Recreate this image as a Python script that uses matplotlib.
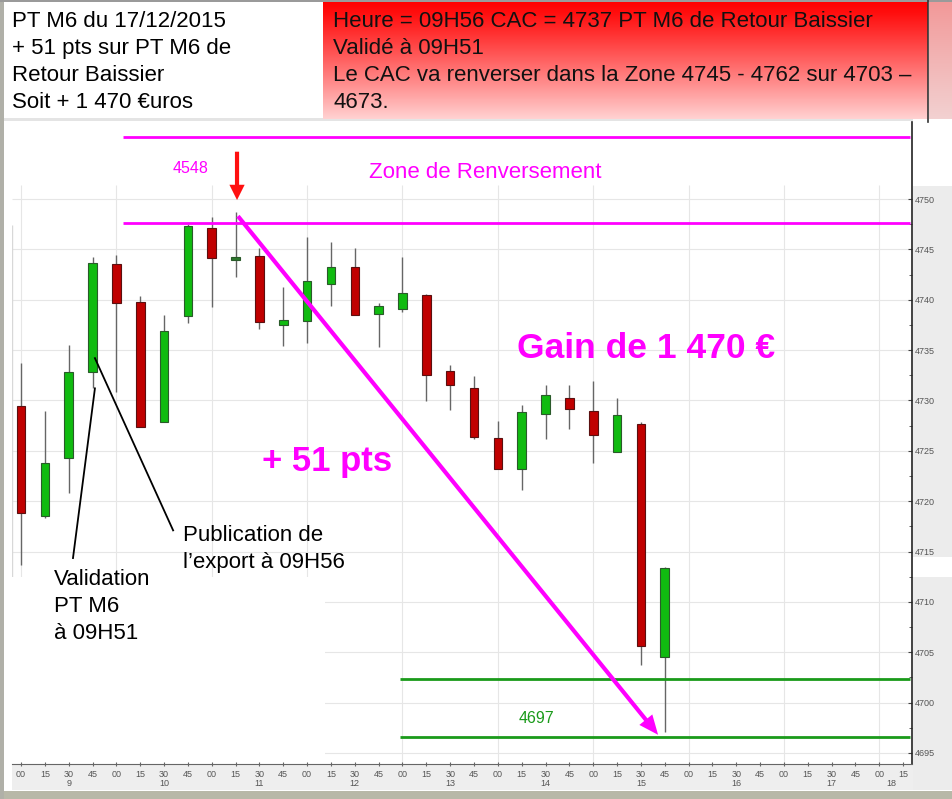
import matplotlib.pyplot as plt
import matplotlib.transforms as mtransforms
from matplotlib.patches import Rectangle
import numpy as np

plt.rcParams['font.family'] = ['Liberation Sans', 'DejaVu Sans']

W, H = 953, 799

# one candle per 15-minute slot, slot 0 = 09:00
slots = list(range(28))
opens = [4729.4, 4718.5, 4724.3, 4732.8, 4743.5, 4739.8, 4727.9, 4738.4, 4747.1, 4743.9,
         4744.3, 4737.5, 4737.9, 4741.6, 4743.3, 4738.6, 4739.1, 4740.5, 4732.9, 4731.2,
         4726.3, 4723.2, 4728.7, 4730.2, 4729.0, 4724.9, 4727.7, 4704.5]
highs = [4733.7, 4729.0, 4735.5, 4744.2, 4744.4, 4740.4, 4738.5, 4747.5, 4748.2, 4748.7,
         4745.1, 4741.3, 4746.2, 4745.7, 4745.1, 4739.7, 4744.2, 4740.6, 4733.5, 4732.4,
         4728.0, 4729.5, 4731.5, 4731.5, 4731.9, 4730.2, 4727.9, 4713.5]
lows = [4713.7, 4718.3, 4720.8, 4731.2, 4730.8, 4727.4, 4727.9, 4737.7, 4739.3, 4742.3,
        4737.1, 4735.4, 4735.7, 4739.4, 4738.5, 4735.3, 4738.8, 4729.9, 4729.1, 4726.2,
        4723.2, 4721.1, 4726.2, 4727.2, 4723.8, 4724.9, 4703.7, 4697.1]
closes = [4718.8, 4723.8, 4732.8, 4743.6, 4739.7, 4727.4, 4736.9, 4747.3, 4744.1, 4744.1,
          4737.8, 4738.0, 4741.9, 4743.3, 4738.5, 4739.4, 4740.7, 4732.5, 4731.5, 4726.4,
          4723.2, 4728.9, 4730.5, 4729.2, 4726.6, 4728.6, 4705.6, 4713.4]

minute_labels = ['00', '15', '30', '45']
hour_labels = ['9', '10', '11', '12', '13', '14', '15', '16', '17', '18']
hour_slots = [2, 6, 10, 14, 18, 22, 26, 30, 34, 36.5]
n_slots = 38  # 09:00 -> 18:15

zone_levels = [4756.2, 4747.6]     # magenta reversal zone
target_levels = [4702.3, 4696.6]   # green target lines
y_ticks = list(range(4695, 4751, 5))

# red signal arrow and the magenta move arrow
signal_slot, signal_top, signal_tip = 9.06, 4754.7, 4749.9
move_start = (9.1, 4748.3)
move_end = (26.72, 4696.8)

left_box = ['PT M6 du 17/12/2015', '+ 51 pts sur PT M6 de', 'Retour Baissier',
            'Soit + 1 470 €uros']
right_box = ['Heure = 09H56 CAC = 4737 PT M6 de Retour Baissier', 'Validé à 09H51',
             'Le CAC va renverser dans la Zone 4745 - 4762 sur 4703 –', '4673.']
box_baselines = [27, 54, 81, 108]


def fx(x):
    return x / W


def fy(y):
    return 1 - y / H


fig = plt.figure(figsize=(W / 100, H / 100), dpi=100)
fig.patch.set_facecolor('white')


def panel(x0, y0, x1, y1, color):
    fig.add_artist(Rectangle((fx(x0), fy(y1)), (x1 - x0) / W, (y1 - y0) / H,
                             transform=fig.transFigure, facecolor=color,
                             edgecolor='none', zorder=-1))


# frame / side panels of the screenshot
panel(913, 186, W, 790, '#ececec')
panel(913, 557, W, 577, 'white')
panel(12, 764, 913, 790, '#eeeeee')
panel(0, 791, W, H, '#b8b8a8')
panel(0, 0, 4, H, '#b0b0a8')
panel(0, 0, W, 2, '#9a9a9a')
panel(4, 118, 913, 121, '#e4e4e4')

# red gradient box
grad = np.linspace(0, 1, 100)
img = np.zeros((100, 1, 3))
img[:, 0, 0] = 1.0
img[:, 0, 1] = 0.82 * grad ** 1.1
img[:, 0, 2] = 0.82 * grad ** 1.1
ax_g = fig.add_axes([fx(323), fy(119), (928 - 323) / W, (119 - 2) / H])
ax_g.imshow(img, aspect='auto')
ax_g.axis('off')

img2 = np.zeros((100, 1, 3))
img2[:, 0, 0] = 0.95
img2[:, 0, 1] = 0.60 + 0.22 * grad
img2[:, 0, 2] = 0.60 + 0.22 * grad
ax_g2 = fig.add_axes([fx(929), fy(119), (W - 929) / W, (119 - 2) / H])
ax_g2.imshow(img2, aspect='auto')
ax_g2.axis('off')
fig.add_artist(plt.Line2D([fx(928), fx(928)], [fy(0), fy(122)], color='#333333',
                          lw=1.2, transform=fig.transFigure))

for yb, t in zip(box_baselines, left_box):
    fig.text(fx(12), fy(yb), t, fontsize=16, va='baseline', color='black')
for yb, t in zip(box_baselines, right_box):
    fig.text(fx(333), fy(yb), t, fontsize=16, va='baseline', color='#111111')

# main chart
ax = fig.add_axes([fx(12), fy(764), 900 / W, 642 / H])
ax.set_facecolor('white')
ax.set_xlim(-0.378, 37.37)
ax.set_ylim(4693.9, 4757.65)

grid_top = 4751.4
ax.hlines(y_ticks, -0.378, 37.37, color='#e6e6e6', lw=0.8, zorder=0)
ax.vlines(range(0, n_slots, 4), 4693.9, grid_top, color='#e6e6e6', lw=0.8, zorder=0)
ax.vlines(-0.378, 4712.5, 4747.4, color='#d8d8d8', lw=1.0, zorder=0)
ax.add_patch(Rectangle((-0.4, 4693.9), 13.15, 4712.5 - 4693.9, facecolor='white',
                       edgecolor='none', zorder=0.5))

up = [c >= o for o, c in zip(opens, closes)]
bottoms = [min(o, c) for o, c in zip(opens, closes)]
heights = [max(abs(c - o), 0.3) for o, c in zip(opens, closes)]
body_colors = []
for u, hgt in zip(up, heights):
    if hgt <= 0.3:
        body_colors.append('#2f7a2f')   # doji drawn darker
    else:
        body_colors.append('#10bb10' if u else '#c00000')
ax.vlines(slots, lows, highs, color='#666666', lw=1.0, zorder=2)
ax.bar(slots, heights, bottom=bottoms, width=0.36, color=body_colors,
       edgecolor=['#2a5a2a' if u else '#5a1010' for u in up], lw=0.8, zorder=3)

ax.hlines(zone_levels, 4.28, 37.29, color='#ff00ff', lw=2.0, zorder=4)
ax.hlines(target_levels, 15.9, 37.29, color='#1a9a1a', lw=2.0, zorder=4)

ax.annotate('', xy=(signal_slot, signal_tip), xytext=(signal_slot, signal_top),
            arrowprops=dict(facecolor='#ff1010', edgecolor='none', width=3,
                            headwidth=11, headlength=11, shrink=0), zorder=5)
ax.annotate('', xy=move_end, xytext=move_start,
            arrowprops=dict(facecolor='#ff00ff', edgecolor='none', width=3,
                            headwidth=12, headlength=14, shrink=0), zorder=5)

ax.plot([3.1, 2.18], [4731.2, 4714.35], color='black', lw=1.3, zorder=5)
ax.plot([3.1, 6.38], [4734.2, 4717.1], color='black', lw=1.3, zorder=5)

for s in ['top', 'left']:
    ax.spines[s].set_visible(False)
ax.spines['right'].set_color('#222222')
ax.spines['right'].set_linewidth(1.2)
ax.spines['bottom'].set_color('#666666')

ax.yaxis.tick_right()
ax.set_yticks(y_ticks)
ax.set_yticklabels([str(v) for v in y_ticks])
ax.set_yticks(np.arange(4697.5, 4751, 5), minor=True)
ax.tick_params(axis='y', which='major', direction='in', length=3, pad=2,
               labelsize=6.5, labelcolor='#555555', color='#444444')
ax.tick_params(axis='y', which='minor', direction='in', length=2, color='#444444')

ax.set_xticks(range(n_slots))
ax.set_xticklabels([minute_labels[i % 4] for i in range(n_slots)])
ax.tick_params(axis='x', direction='inout', length=3, pad=3, labelsize=6.5,
               labelcolor='#555555', color='#666666')

trans = mtransforms.blended_transform_factory(ax.transData, fig.transFigure)
for s, lab in zip(hour_slots, hour_labels):
    ax.text(s, fy(784), lab, transform=trans, ha='center', va='center',
            fontsize=6.5, color='#555555', clip_on=False)

# annotations
fig.text(fx(369), fy(178), 'Zone de Renversement', fontsize=16, color='#ff00ff', va='baseline')
fig.text(fx(173), fy(173), '4548', fontsize=11.5, color='#ff00ff', va='baseline')
fig.text(fx(519), fy(723), '4697', fontsize=11.5, color='#1a9a1a', va='baseline')
fig.text(fx(262), fy(471), '+ 51 pts', fontsize=25, fontweight='bold', color='#ff00ff',
         va='baseline')
fig.text(fx(517), fy(358), 'Gain de 1 470 €', fontsize=25.5, fontweight='bold',
         color='#ff00ff', va='baseline')
for i, t in enumerate(['Validation', 'PT M6', 'à 09H51']):
    fig.text(fx(54), fy(585 + 27 * i), t, fontsize=16, va='baseline')
for i, t in enumerate(['Publication de', 'l’export à 09H56']):
    fig.text(fx(183), fy(541 + 27 * i), t, fontsize=16, va='baseline')

fig.savefig('out.png', dpi=100)
